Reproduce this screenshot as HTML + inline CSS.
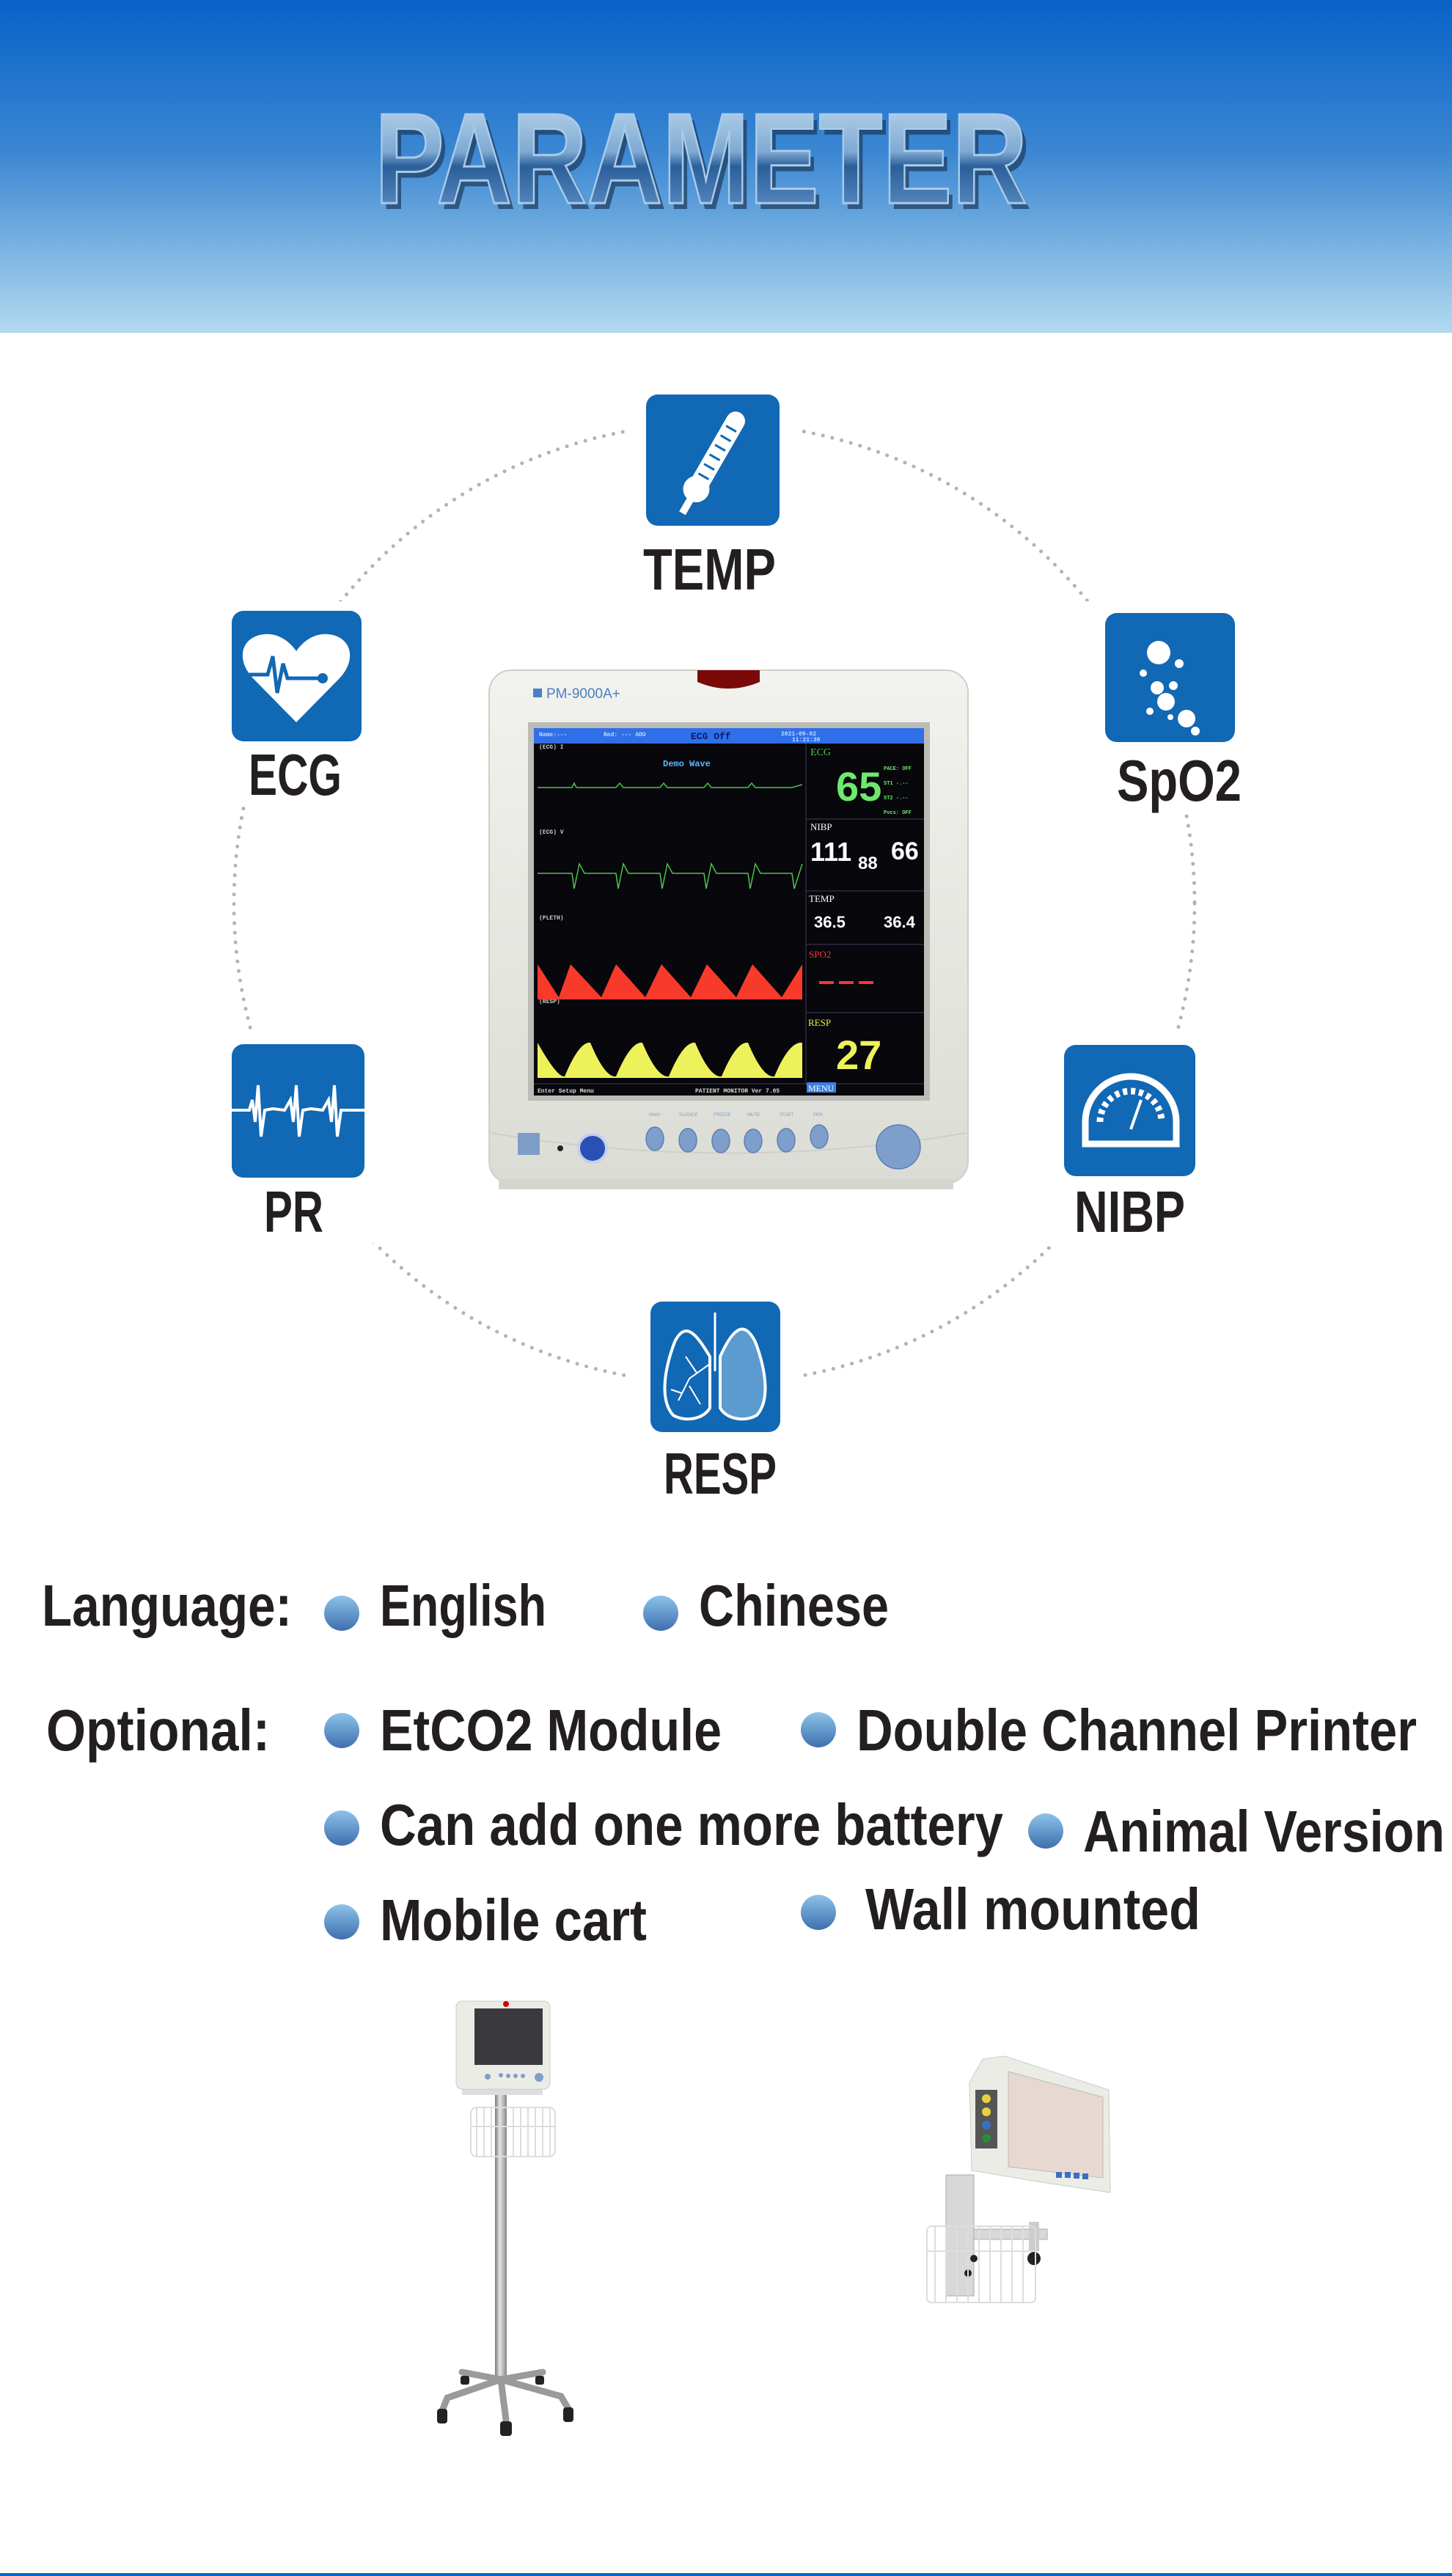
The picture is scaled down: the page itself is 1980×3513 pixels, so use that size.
<!DOCTYPE html>
<html><head><meta charset="utf-8"><style>
html,body{margin:0;padding:0;background:#fff}
svg{display:block}
.lb{font-family:"Liberation Sans Narrow","Liberation Sans",sans-serif;font-weight:bold;fill:#231f20}
.mono{font-family:"Liberation Mono",monospace;font-weight:bold}
</style></head><body>
<svg width="1980" height="3513" viewBox="0 0 1980 3513" xmlns="http://www.w3.org/2000/svg">
<defs>
<linearGradient id="hdr" x1="0" y1="0" x2="0" y2="1">
<stop offset="0" stop-color="#0862c8"/><stop offset="0.45" stop-color="#3a86d2"/><stop offset="1" stop-color="#b2daf0"/>
</linearGradient>
<linearGradient id="ttl" x1="0" y1="0" x2="0" y2="1">
<stop offset="0" stop-color="#c8e2f4"/><stop offset="0.45" stop-color="#7fa9d2"/><stop offset="0.55" stop-color="#2b5f9a"/><stop offset="1" stop-color="#6e9fd4"/>
</linearGradient>
<linearGradient id="bul" x1="0" y1="0" x2="0" y2="1">
<stop offset="0" stop-color="#8cc3ea"/><stop offset="1" stop-color="#3f6fae"/>
</linearGradient>
<linearGradient id="bez" x1="0" y1="0" x2="0" y2="1">
<stop offset="0" stop-color="#f2f2ee"/><stop offset="1" stop-color="#dcdcd6"/>
</linearGradient>
<linearGradient id="pole" x1="0" y1="0" x2="1" y2="0">
<stop offset="0" stop-color="#777"/><stop offset="0.4" stop-color="#e6e6e6"/><stop offset="1" stop-color="#888"/>
</linearGradient>
</defs>

<rect x="0" y="0" width="1980" height="454" fill="url(#hdr)"/>
<text x="962" y="285" text-anchor="middle" font-family="Liberation Sans Narrow, Liberation Sans, sans-serif" font-weight="bold" font-size="176" textLength="890" lengthAdjust="spacingAndGlyphs" fill="#1d3a5e" opacity="0.7">PARAMETER</text>
<text x="956" y="277" text-anchor="middle" font-family="Liberation Sans Narrow, Liberation Sans, sans-serif" font-weight="bold" font-size="176" textLength="890" lengthAdjust="spacingAndGlyphs" fill="url(#ttl)" stroke="#a9cbe8" stroke-width="3">PARAMETER</text>

<circle cx="974" cy="1232" r="655" fill="none" stroke="#b3b3b3" stroke-width="5" stroke-dasharray="0.1 13" stroke-linecap="round"/>

<g fill="#fff">
<rect x="858" y="520" width="235" height="300"/>
<rect x="290" y="820" width="230" height="275"/>
<rect x="1480" y="820" width="230" height="285"/>
<rect x="290" y="1405" width="230" height="290"/>
<rect x="1430" y="1410" width="230" height="290"/>
<rect x="855" y="1760" width="240" height="290"/>
</g>

<g fill="#1168b4">
<rect x="881" y="538" width="182" height="179" rx="16"/>
<rect x="316" y="833" width="177" height="178" rx="16"/>
<rect x="1507" y="836" width="177" height="176" rx="16"/>
<rect x="316" y="1424" width="181" height="182" rx="16"/>
<rect x="1451" y="1425" width="179" height="179" rx="16"/>
<rect x="887" y="1775" width="177" height="178" rx="16"/>
</g>
<g transform="translate(972,628) rotate(30)">
<rect x="-13" y="-75" width="26" height="120" rx="13" fill="#fff"/>
<circle cx="0" cy="45" r="18" fill="#fff"/>
<rect x="-5" y="45" width="10" height="38" fill="#fff"/>
<g stroke="#1168b4" stroke-width="3"><line x1="-8" y1="-50" x2="8" y2="-50"/><line x1="-8" y1="-35" x2="8" y2="-35"/><line x1="-8" y1="-20" x2="8" y2="-20"/><line x1="-8" y1="-5" x2="8" y2="-5"/><line x1="-8" y1="10" x2="8" y2="10"/><line x1="-8" y1="25" x2="8" y2="25"/></g>
</g>
<path d="M404,985 L345,925 C320,898 330,868 360,865 C380,863 395,875 404,888 C413,875 428,863 448,865 C478,868 488,898 463,925 Z" fill="#fff"/>
<polyline points="338,920 365,920 372,895 378,945 386,905 392,925 440,925" fill="none" stroke="#1168b4" stroke-width="5"/>
<circle cx="440" cy="925" r="7" fill="#1168b4"/>
<g fill="#fff">
<circle cx="1580" cy="890" r="16"/><circle cx="1608" cy="905" r="6"/><circle cx="1559" cy="918" r="5"/>
<circle cx="1578" cy="938" r="9"/><circle cx="1600" cy="935" r="6"/><circle cx="1590" cy="957" r="12"/>
<circle cx="1568" cy="970" r="5"/><circle cx="1618" cy="980" r="12"/><circle cx="1630" cy="997" r="6"/><circle cx="1596" cy="978" r="4"/>
</g>
<polyline points="316,1514 340,1514 344,1500 348,1530 352,1480 356,1550 361,1514 372,1512 388,1514 396,1500 400,1530 404,1480 408,1550 413,1514 424,1512 440,1514 448,1500 452,1530 456,1480 460,1550 465,1514 497,1514" fill="none" stroke="#fff" stroke-width="4"/>
<path d="M1480,1560 L1480,1530 A62,62 0 0 1 1604,1530 L1604,1560 Z" fill="none" stroke="#fff" stroke-width="9"/>
<path d="M1500,1530 A42,42 0 0 1 1584,1530" fill="none" stroke="#fff" stroke-width="9" stroke-dasharray="6 5"/>
<line x1="1542" y1="1540" x2="1556" y2="1500" stroke="#fff" stroke-width="4"/>
<line x1="975" y1="1790" x2="975" y2="1870" stroke="#fff" stroke-width="3"/>
<path d="M968,1850 C950,1820 935,1800 920,1830 C905,1870 900,1910 918,1930 C935,1940 960,1935 968,1920 Z" fill="#1168b4" stroke="#fff" stroke-width="4"/>
<path d="M982,1850 C1000,1810 1015,1800 1030,1830 C1045,1870 1050,1910 1032,1930 C1015,1940 990,1935 982,1920 Z" fill="#5b9bd0" stroke="#fff" stroke-width="4"/>
<g stroke="#fff" stroke-width="2" fill="none"><path d="M968,1860 L940,1880 L925,1910 M950,1872 L935,1850 M940,1890 L955,1915 M930,1900 L915,1895"/></g>

<g class="lb" font-size="80">
<text x="877" y="804" textLength="181" lengthAdjust="spacingAndGlyphs">TEMP</text>
<text x="339" y="1084" textLength="127" lengthAdjust="spacingAndGlyphs">ECG</text>
<text x="1523" y="1092" textLength="170" lengthAdjust="spacingAndGlyphs">SpO2</text>
<text x="360" y="1680" textLength="81" lengthAdjust="spacingAndGlyphs">PR</text>
<text x="1465" y="1680" textLength="151" lengthAdjust="spacingAndGlyphs">NIBP</text>
<text x="905" y="2037" textLength="154" lengthAdjust="spacingAndGlyphs">RESP</text>
</g>

<rect x="667" y="914" width="653" height="700" rx="30" fill="url(#bez)" stroke="#cfcfc9" stroke-width="2"/>
<rect x="680" y="1608" width="620" height="14" fill="#d6d6d0"/>
<path d="M951,914 L1036,914 L1036,930 Q993,948 951,930 Z" fill="#7a0a0a"/>
<rect x="727" y="939" width="12" height="12" fill="#4a7fc4"/>
<text x="745" y="952" font-family="Liberation Sans, sans-serif" font-size="19" fill="#4a7fc4">PM-9000A+</text>
<rect x="720" y="985" width="548" height="516" fill="#bcbcb6"/>
<rect x="728" y="993" width="532" height="501" fill="#07070c"/>
<rect x="728" y="993" width="532" height="21" fill="#2f6fe8"/>
<g class="mono" font-size="8" fill="#c8d8ff">
<text x="735" y="1004">Name:---</text><text x="823" y="1004">Bed: ---  ADU</text><text x="1065" y="1003">2021-09-02</text><text x="1080" y="1011">11:21:30</text>
</g>
<text x="942" y="1008" class="mono" font-size="13" fill="#0a1a6a">ECG   Off</text>
<g class="mono" font-size="8" fill="#ccc"><text x="735" y="1021">(ECG)  I</text><text x="735" y="1137">(ECG)  V</text><text x="735" y="1254">(PLETH)</text><text x="735" y="1368">(RESP)</text></g>
<text x="904" y="1045" class="mono" font-size="12" fill="#5ab8ff">Demo Wave</text>
<polyline points="733,1074 760,1074 780,1074 783,1068 786,1074 840,1074 845,1068 850,1074 900,1074 905,1068 910,1074 960,1074 965,1068 970,1074 1020,1074 1025,1068 1030,1074 1080,1074 1094,1070" fill="none" stroke="#4ec24e" stroke-width="1.5"/>
<polyline points="733,1191 780,1191 783,1212 790,1178 797,1191 840,1191 843,1212 850,1178 857,1191 900,1191 903,1212 910,1178 917,1191 960,1191 963,1212 970,1178 977,1191 1020,1191 1023,1212 1030,1178 1037,1191 1080,1191 1083,1212 1094,1178" fill="none" stroke="#4ec24e" stroke-width="1.5"/>
<path d="M733,1363 L733,1315 L762,1360 L778,1315 L820,1360 L840,1315 L880,1360 L902,1315 L942,1360 L964,1315 L1004,1360 L1026,1315 L1066,1360 L1094,1315 L1094,1363 Z" fill="#f83a2a"/>
<path d="M733,1470 L733,1422 Q760,1470 770,1468 Q790,1420 805,1422 Q825,1470 840,1468 Q860,1420 876,1422 Q896,1470 912,1468 Q932,1420 948,1422 Q968,1470 984,1468 Q1004,1420 1020,1422 Q1040,1470 1056,1468 Q1076,1420 1094,1422 L1094,1470 Z" fill="#eef25a"/>
<line x1="1099" y1="1014" x2="1099" y2="1480" stroke="#223" stroke-width="2"/>
<g stroke="#223" stroke-width="2"><line x1="1099" y1="1117" x2="1260" y2="1117"/><line x1="1099" y1="1215" x2="1260" y2="1215"/><line x1="1099" y1="1288" x2="1260" y2="1288"/><line x1="1099" y1="1381" x2="1260" y2="1381"/><line x1="728" y1="1478" x2="1260" y2="1478"/></g>
<text x="1105" y="1030" font-family="Liberation Serif,serif" font-size="14" fill="#4ec24e">ECG</text>
<text x="1140" y="1092" font-family="Liberation Sans Narrow,sans-serif" font-weight="bold" font-size="56" fill="#6ee86e">65</text>
<g class="mono" font-size="7" fill="#6ee86e"><text x="1205" y="1050">PACE: OFF</text><text x="1205" y="1070">ST1  -.--</text><text x="1205" y="1090">ST2  -.--</text><text x="1205" y="1110">Pvcs: OFF</text></g>
<text x="1105" y="1132" font-family="Liberation Serif,serif" font-size="13" fill="#fff">NIBP</text>
<g font-family="Liberation Sans Narrow,sans-serif" font-weight="bold" fill="#fff"><text x="1105" y="1174" font-size="36">111</text><text x="1170" y="1185" font-size="24">88</text><text x="1215" y="1172" font-size="34">66</text>
<text x="1110" y="1265" font-size="22">36.5</text><text x="1205" y="1265" font-size="22">36.4</text></g>
<text x="1103" y="1230" font-family="Liberation Serif,serif" font-size="13" fill="#fff">TEMP</text>
<text x="1103" y="1306" font-family="Liberation Serif,serif" font-size="13" fill="#f33">SPO2</text>
<g stroke="#f33" stroke-width="4"><line x1="1117" y1="1340" x2="1137" y2="1340"/><line x1="1144" y1="1340" x2="1164" y2="1340"/><line x1="1171" y1="1340" x2="1191" y2="1340"/></g>
<text x="1102" y="1399" font-family="Liberation Serif,serif" font-size="13" fill="#ee4">RESP</text>
<text x="1140" y="1458" font-family="Liberation Sans Narrow,sans-serif" font-weight="bold" font-size="56" fill="#eef25a">27</text>
<g class="mono" font-size="8" fill="#ddd"><text x="733" y="1490">Enter  Setup Menu</text><text x="948" y="1490">PATIENT MONITOR  Ver 7.05</text></g>
<rect x="1100" y="1476" width="40" height="14" fill="#3a7fe0"/><text x="1102" y="1488" font-family="Liberation Serif,serif" font-size="12" fill="#fff">MENU</text>
<path d="M669,1545 Q993,1600 1318,1545" fill="none" stroke="#cfcfc9" stroke-width="2"/>
<rect x="706" y="1545" width="30" height="30" fill="#7d9dc8"/>
<circle cx="764" cy="1566" r="4" fill="#222"/>
<circle cx="808" cy="1566" r="19" fill="#2a50b8" stroke="#c5d0ea" stroke-width="4"/>
<g fill="#7e9fcb" stroke="#5c7fb0" stroke-width="1.5">
<ellipse cx="893" cy="1553" rx="12" ry="16"/><ellipse cx="938" cy="1555" rx="12" ry="16"/><ellipse cx="983" cy="1556" rx="12" ry="16"/><ellipse cx="1027" cy="1556" rx="12" ry="16"/><ellipse cx="1072" cy="1555" rx="12" ry="16"/><ellipse cx="1117" cy="1550" rx="12" ry="16"/>
<circle cx="1225" cy="1564" r="30"/></g>
<g font-family="Liberation Sans,sans-serif" font-size="6" fill="#7e9fcb"><text x="885" y="1522">MAIN</text><text x="926" y="1522">SILENCE</text><text x="973" y="1522">FREEZE</text><text x="1019" y="1522">MUTE</text><text x="1063" y="1522">START</text><text x="1109" y="1522">PRN</text></g>

<g class="lb" font-size="80">
<text x="57" y="2217" textLength="341" lengthAdjust="spacingAndGlyphs">Language:</text>
<text x="518" y="2217" textLength="227" lengthAdjust="spacingAndGlyphs">English</text>
<text x="953" y="2217" textLength="259" lengthAdjust="spacingAndGlyphs">Chinese</text>
<text x="63" y="2387" textLength="305" lengthAdjust="spacingAndGlyphs">Optional:</text>
<text x="518" y="2387" textLength="466" lengthAdjust="spacingAndGlyphs">EtCO2 Module</text>
<text x="1168" y="2387" textLength="764" lengthAdjust="spacingAndGlyphs">Double Channel Printer</text>
<text x="518" y="2516" textLength="850" lengthAdjust="spacingAndGlyphs">Can add one more battery</text>
<text x="1477" y="2525" textLength="493" lengthAdjust="spacingAndGlyphs">Animal Version</text>
<text x="518" y="2646" textLength="364" lengthAdjust="spacingAndGlyphs">Mobile cart</text>
<text x="1180" y="2631" textLength="457" lengthAdjust="spacingAndGlyphs">Wall mounted</text>
</g>
<g fill="url(#bul)">
<circle cx="466" cy="2200" r="24"/><circle cx="901" cy="2200" r="24"/>
<circle cx="466" cy="2360" r="24"/><circle cx="1116" cy="2359" r="24"/>
<circle cx="466" cy="2493" r="24"/><circle cx="1426" cy="2497" r="24"/>
<circle cx="466" cy="2621" r="24"/><circle cx="1116" cy="2608" r="24"/>
</g>

<rect x="675" y="2849" width="16" height="400" fill="url(#pole)"/>
<g stroke="#9a9a9a" stroke-width="9" fill="none" stroke-linecap="round">
<path d="M683,3245 L610,3270 L602,3290"/><path d="M683,3245 L690,3300"/><path d="M683,3245 L765,3268 L775,3285"/><path d="M683,3245 L630,3235"/><path d="M683,3245 L740,3235"/>
</g>
<g fill="#222"><rect x="596" y="3285" width="14" height="20" rx="4"/><rect x="682" y="3302" width="16" height="20" rx="4"/><rect x="768" y="3283" width="14" height="20" rx="4"/><rect x="628" y="3240" width="12" height="12" rx="3"/><rect x="730" y="3240" width="12" height="12" rx="3"/></g>
<g stroke="#ddd" stroke-width="2" fill="none"><rect x="642" y="2874" width="115" height="67" rx="8"/><path d="M650,2874 V2941 M660,2874 V2941 M670,2874 V2941 M700,2874 V2941 M710,2874 V2941 M720,2874 V2941 M730,2874 V2941 M740,2874 V2941 M750,2874 V2941 M642,2900 H757"/></g>
<rect x="630" y="2849" width="110" height="8" fill="#ddd"/>
<rect x="622" y="2729" width="128" height="120" rx="8" fill="#ecece6" stroke="#ccc"/>
<rect x="647" y="2739" width="93" height="77" fill="#3a3a3e"/>
<circle cx="690" cy="2733" r="4" fill="#c00"/>
<g fill="#7e9fcb"><circle cx="665" cy="2832" r="4"/><circle cx="683" cy="2830" r="3"/><circle cx="693" cy="2831" r="3"/><circle cx="703" cy="2831" r="3"/><circle cx="713" cy="2831" r="3"/><circle cx="735" cy="2833" r="6"/></g>

<rect x="1290" y="2966" width="38" height="165" fill="#d8d8d8" stroke="#aaa"/>
<rect x="1328" y="3040" width="100" height="14" fill="#d8d8d8" stroke="#aaa"/>
<rect x="1403" y="3030" width="14" height="40" fill="#ccc"/>
<circle cx="1410" cy="3080" r="9" fill="#222"/>
<circle cx="1328" cy="3080" r="5" fill="#222"/><circle cx="1320" cy="3100" r="5" fill="#222"/>
<g stroke="#ddd" stroke-width="2" fill="none"><rect x="1264" y="3036" width="148" height="104" rx="6"/><path d="M1275,3036 V3140 M1290,3036 V3140 M1305,3036 V3140 M1320,3036 V3140 M1335,3036 V3140 M1350,3036 V3140 M1365,3036 V3140 M1380,3036 V3140 M1395,3036 V3140 M1264,3070 H1412"/></g>
<path d="M1340,2808 L1370,2804 L1512,2850 L1514,2990 L1420,2976 L1325,2960 L1322,2840 Z" fill="#ecece6" stroke="#ccc"/>
<path d="M1375,2825 L1504,2860 L1504,2970 L1375,2955 Z" fill="#e8d8d2" stroke="#bbb"/>
<rect x="1330" y="2850" width="30" height="80" fill="#555"/>
<g><circle cx="1345" cy="2862" r="6" fill="#e8d040"/><circle cx="1345" cy="2880" r="6" fill="#e8d040"/><circle cx="1345" cy="2898" r="6" fill="#3a6fc8"/><circle cx="1345" cy="2916" r="6" fill="#2a8a3a"/></g>
<g fill="#3a6fc8"><rect x="1440" y="2962" width="8" height="8"/><rect x="1452" y="2962" width="8" height="8"/><rect x="1464" y="2963" width="8" height="8"/><rect x="1476" y="2964" width="8" height="8"/></g>

<rect x="0" y="3509" width="1980" height="4" fill="#0a64c8"/>
</svg>
</body></html>
